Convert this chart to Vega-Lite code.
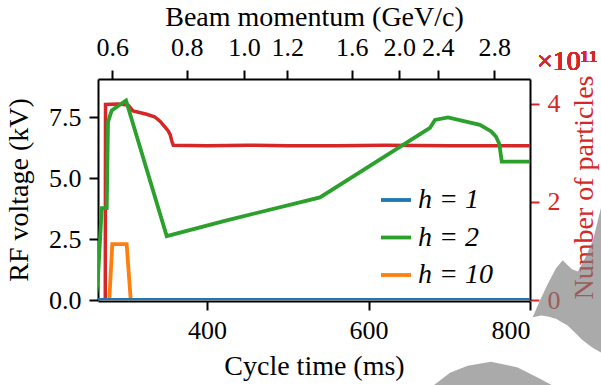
{
  "$schema": "https://vega.github.io/schema/vega-lite/v6.json",
  "width": 432,
  "height": 221,
  "autosize": {"type": "none"},
  "padding": {"left": 98, "top": 79, "right": 71, "bottom": 85},
  "background": "white",
  "config": {
    "view": {"stroke": null},
    "font": "Liberation Serif",
    "axis": {
      "labelFont": "Liberation Serif",
      "labelFontSize": 26,
      "titleFont": "Liberation Serif",
      "titleFontSize": 28,
      "titleFontWeight": "normal",
      "tickSize": 9,
      "tickWidth": 2,
      "domainWidth": 2,
      "domainColor": "black",
      "tickColor": "black",
      "labelColor": "black",
      "titleColor": "black",
      "grid": false,
      "zindex": 1
    }
  },
  "datasets": {
    "voltage": [
      {"t": 279.0, "kV": 0.0, "h": "h = 10"},
      {"t": 282.7, "kV": 2.29, "h": "h = 10"},
      {"t": 300.5, "kV": 2.29, "h": "h = 10"},
      {"t": 305.5, "kV": 0.0, "h": "h = 10"},
      {"t": 262.0, "kV": 0.0, "h": "h = 2"},
      {"t": 265.0, "kV": 0.93, "h": "h = 2"},
      {"t": 269.6, "kV": 3.77, "h": "h = 2"},
      {"t": 275.8, "kV": 3.77, "h": "h = 2"},
      {"t": 277.4, "kV": 7.31, "h": "h = 2"},
      {"t": 282.0, "kV": 7.78, "h": "h = 2"},
      {"t": 299.7, "kV": 8.19, "h": "h = 2"},
      {"t": 350.1, "kV": 2.62, "h": "h = 2"},
      {"t": 424.4, "kV": 3.27, "h": "h = 2"},
      {"t": 539.9, "kV": 4.21, "h": "h = 2"},
      {"t": 676.1, "kV": 7.06, "h": "h = 2"},
      {"t": 682.3, "kV": 7.39, "h": "h = 2"},
      {"t": 698.4, "kV": 7.49, "h": "h = 2"},
      {"t": 738.0, "kV": 7.19, "h": "h = 2"},
      {"t": 752.0, "kV": 6.92, "h": "h = 2"},
      {"t": 758.0, "kV": 6.7, "h": "h = 2"},
      {"t": 762.0, "kV": 6.4, "h": "h = 2"},
      {"t": 765.0, "kV": 5.68, "h": "h = 2"},
      {"t": 800.0, "kV": 5.68, "h": "h = 2"},
      {"t": 265.0, "kV": 0.0, "h": "h = 1"},
      {"t": 800.0, "kV": 0.0, "h": "h = 1"}
    ],
    "particles": [
      {"t": 274.0, "n": 0.0},
      {"t": 274.3, "n": 3.99},
      {"t": 290.0, "n": 4.0},
      {"t": 302.2, "n": 3.98},
      {"t": 308.3, "n": 3.86},
      {"t": 325.3, "n": 3.79},
      {"t": 335.0, "n": 3.74},
      {"t": 341.8, "n": 3.65},
      {"t": 347.0, "n": 3.55},
      {"t": 352.0, "n": 3.45},
      {"t": 354.5, "n": 3.37},
      {"t": 356.3, "n": 3.25},
      {"t": 358.2, "n": 3.16},
      {"t": 400.0, "n": 3.15},
      {"t": 450.0, "n": 3.16},
      {"t": 500.0, "n": 3.15},
      {"t": 560.0, "n": 3.15},
      {"t": 620.0, "n": 3.16},
      {"t": 700.0, "n": 3.15},
      {"t": 800.0, "n": 3.15}
    ],
    "shapeA": [
      {"t": 803.3, "hi": -0.71, "lo": -0.71},
      {"t": 808.0, "hi": -0.35, "lo": -0.68},
      {"t": 813.6, "hi": 0.07, "lo": -0.64},
      {"t": 822.3, "hi": 0.68, "lo": -0.68},
      {"t": 832.2, "hi": 1.3, "lo": -0.77},
      {"t": 840.5, "hi": 1.63, "lo": -0.93},
      {"t": 845.8, "hi": 1.46, "lo": -1.03},
      {"t": 852.0, "hi": 1.26, "lo": -1.22},
      {"t": 859.4, "hi": 1.17, "lo": -1.46},
      {"t": 863.1, "hi": 1.4, "lo": -1.59},
      {"t": 868.1, "hi": 1.71, "lo": -1.72},
      {"t": 878.0, "hi": 2.45, "lo": -1.97},
      {"t": 888.0, "hi": 3.8, "lo": -2.16},
      {"t": 895.0, "hi": 4.4, "lo": -2.3}
    ],
    "shapeB": [
      {"t": 676.0, "hi": -3.75, "lo": -3.75},
      {"t": 680.0, "hi": -3.52, "lo": -3.75},
      {"t": 700.9, "hi": -2.99, "lo": -3.75},
      {"t": 722.8, "hi": -2.7, "lo": -3.75},
      {"t": 751.7, "hi": -2.53, "lo": -3.75},
      {"t": 784.8, "hi": -2.77, "lo": -3.75},
      {"t": 813.6, "hi": -3.25, "lo": -3.75},
      {"t": 828.5, "hi": -3.52, "lo": -3.75},
      {"t": 832.0, "hi": -3.75, "lo": -3.75}
    ]
  },
  "resolve": {"scale": {"y": "independent"}, "axis": {"x": "independent", "y": "independent"}},
  "layer": [
    {
      "data": {"name": "particles"},
      "layer": [
        {
          "mark": {"type": "line", "color": "#d62728", "strokeWidth": 3.5, "clip": true},
          "encoding": {
            "x": {
              "field": "t", "type": "quantitative",
              "scale": {"domain": [265, 800], "nice": false, "zero": false},
              "axis": {
                "orient": "top",
                "title": "Beam momentum (GeV/c)",
                "values": [282.7, 374.8, 445.8, 499.4, 579.2, 638.1, 685.7, 755.8],
                "labelExpr": "['0.6','0.8','1.0','1.2','1.6','2.0','2.4','2.8'][indexof([282.7, 374.8, 445.8, 499.4, 579.2, 638.1, 685.7, 755.8], datum.value)]",
                "labelPadding": 10,
                "titlePadding": 3
              }
            },
            "y": {
              "field": "n", "type": "quantitative",
              "scale": {"domain": [0, 4.51], "nice": false, "zero": false},
              "axis": {
                "orient": "right",
                "title": "Number of particles",
                "titleAngle": 270,
                "titleX": 62,
                "titleY": 108,
                "titleAlign": "center",
                "titleBaseline": "alphabetic",
                "values": [0, 2, 4],
                "format": "d",
                "labelColor": "#d62728",
                "tickColor": "#d62728",
                "titleColor": "#d62728",
                "labelPadding": 8
              }
            }
          }
        },
        {
          "mark": {"type": "text", "text": "×10¹¹", "color": "#d62728", "font": "Liberation Serif", "fontSize": 28, "align": "left", "baseline": "alphabetic", "dx": 7, "dy": -9, "clip": false},
          "encoding": {
            "x": {"datum": 800, "type": "quantitative"},
            "y": {"datum": 4.51, "type": "quantitative"}
          }
        }
      ]
    },
    {
      "layer": [
        {
          "data": {"name": "voltage"},
          "mark": {"type": "line", "strokeWidth": 3.8, "clip": true},
          "encoding": {
            "x": {
              "field": "t", "type": "quantitative",
              "title": "Cycle time (ms)",
              "scale": {"domain": [265, 800], "nice": false, "zero": false},
              "axis": {"orient": "bottom", "values": [400, 600, 800], "format": "d", "offset": 1, "labelPadding": 7, "titlePadding": 9}
            },
            "y": {
              "field": "kV", "type": "quantitative",
              "title": "RF voltage (kV)",
              "scale": {"domain": [0, 9.07], "nice": false, "zero": false},
              "axis": {"orient": "left", "values": [0, 2.5, 5, 7.5], "format": ".1f", "labelPadding": 8, "titlePadding": 15}
            },
            "color": {
              "field": "h", "type": "nominal",
              "scale": {"domain": ["h = 1", "h = 2", "h = 10"], "range": ["#1f77b4", "#2ca02c", "#ff7f0e"]},
              "legend": {
                "title": null,
                "orient": "none",
                "legendX": 281,
                "legendY": 104,
                "symbolType": "stroke",
                "symbolSize": 900,
                "symbolStrokeWidth": 3.8,
                "labelFont": "Liberation Serif",
                "labelFontSize": 28,
                "labelFontStyle": "italic",
                "labelColor": "black",
                "labelOffset": 5,
                "rowPadding": 6.5,
                "padding": 0
              }
            }
          }
        },
        {
          "data": {"name": "shapeA"},
          "mark": {"type": "area", "color": "#7a7a7a", "opacity": 0.64, "clip": false},
          "encoding": {
            "x": {"field": "t", "type": "quantitative", "title": "Cycle time (ms)"},
            "y": {"field": "hi", "type": "quantitative", "title": "RF voltage (kV)"},
            "y2": {"field": "lo"}
          }
        },
        {
          "data": {"name": "shapeB"},
          "mark": {"type": "area", "color": "#7a7a7a", "opacity": 0.64, "clip": false},
          "encoding": {
            "x": {"field": "t", "type": "quantitative", "title": "Cycle time (ms)"},
            "y": {"field": "hi", "type": "quantitative", "title": "RF voltage (kV)"},
            "y2": {"field": "lo"}
          }
        }
      ]
    }
  ]
}
